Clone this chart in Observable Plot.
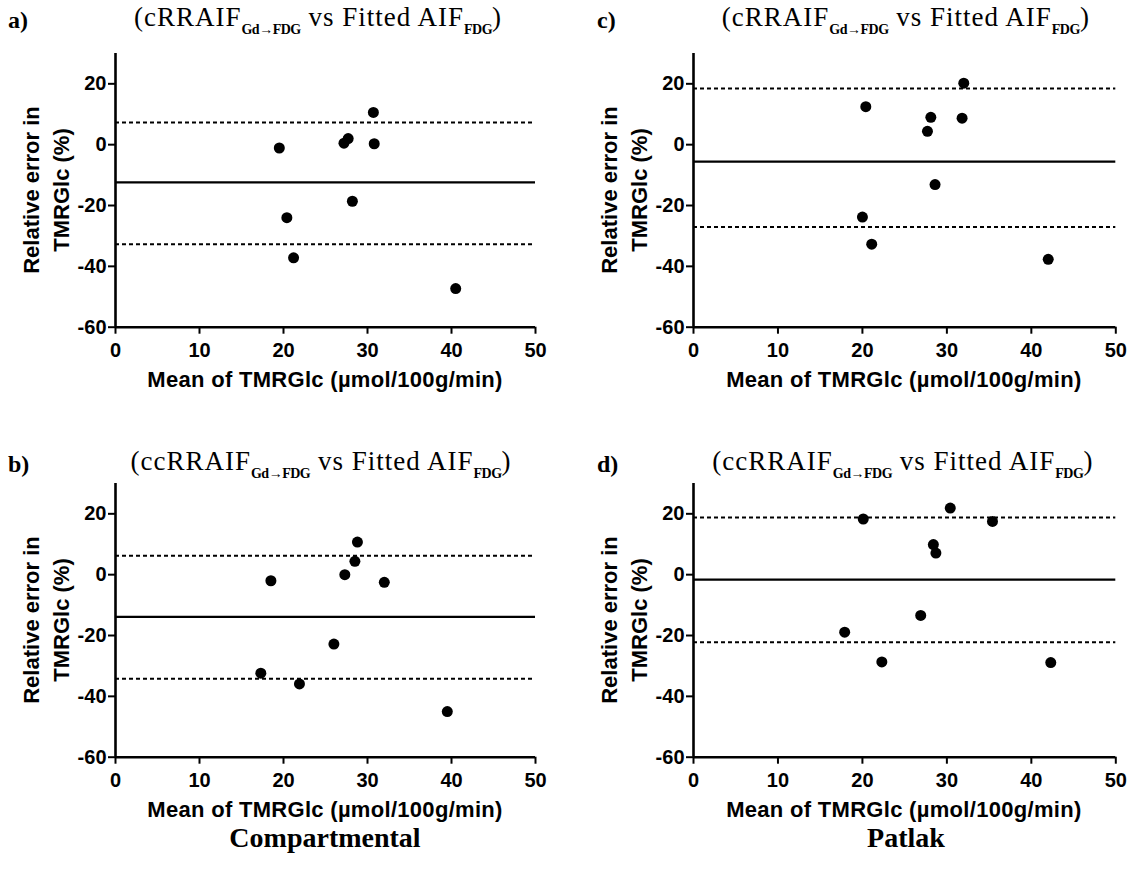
<!DOCTYPE html>
<html>
<head>
<meta charset="utf-8">
<script src="https://cdn.jsdelivr.net/npm/d3@7"></script>
<script src="https://cdn.jsdelivr.net/npm/@observablehq/plot@0.6"></script>
<style>
  html, body { margin: 0; padding: 0; background: #fff; }
  body { position: relative; width: 1136px; height: 873px; overflow: hidden; color: #000; }
  .panel { position: absolute; }
  .panel text { font-family: "Liberation Sans", Arial, sans-serif; font-size: 20px; font-weight: bold; }
  .tag { position: absolute; font: bold 24px "Liberation Serif", serif; line-height: 1; }
  .title { position: absolute; font: 27px "Liberation Serif", serif; letter-spacing: 1px; line-height: 1; white-space: nowrap; transform: translateX(-50%); }
  .title sub { font-size: 14px; font-weight: bold; vertical-align: -8px; letter-spacing: -0.5px; }
  .ylab { position: absolute; width: 260px; height: 60px; font: bold 22px "Liberation Sans", Arial, sans-serif;
          line-height: 30px; text-align: center; transform: rotate(-90deg); white-space: nowrap; }
  .xlab { position: absolute; font: bold 22px "Liberation Sans", Arial, sans-serif; letter-spacing: 0.3px; white-space: nowrap; transform: translate(-50%, -50%); }
  .method { position: absolute; font: bold 28px "Liberation Serif", serif; white-space: nowrap; transform: translate(-50%, -50%); }
</style>
</head>
<body>
<script>
// Bland–Altman panels: relative error in TMRGlc against mean TMRGlc
const panelTags = ["a)", "b)", "c)", "d)"];
const panelPrefix = ["(cRRAIF", "(ccRRAIF", "(cRRAIF", "(ccRRAIF"];
const methodLabels = ["Compartmental", "Patlak"];

// mean TMRGlc (µmol/100g/min) and relative error (%) per subject
const meanA = [19.5, 20.4, 21.2, 27.2, 27.7, 30.7, 30.8, 28.2, 40.5];
const errA  = [-1.1, -24.0, -37.2, 0.5, 2.0, 10.6, 0.3, -18.6, -47.3];
const meanB = [18.5, 27.3, 28.5, 28.8, 32.0, 26.0, 17.3, 21.9, 39.5];
const errB  = [-2.0, 0.0, 4.4, 10.7, -2.5, -22.8, -32.4, -35.9, -45.0];
const meanC = [20.4, 32.0, 28.1, 27.7, 31.8, 28.6, 20.0, 21.1, 42.0];
const errC  = [12.5, 20.2, 9.0, 4.4, 8.7, -13.1, -23.8, -32.7, -37.7];
const meanD = [20.1, 30.4, 35.4, 28.4, 28.7, 26.9, 17.9, 22.3, 42.3];
const errD  = [18.3, 21.9, 17.5, 9.9, 7.1, -13.4, -18.9, -28.7, -28.9];

// bias (solid) and 95% limits of agreement (dotted), panels a–d
const bias  = [-12.4, -13.9, -5.6, -1.6];
const upper = [7.3, 6.2, 18.5, 18.8];
const lower = [-32.7, -34.2, -27.1, -22.2];

const xTicks = [0, 10, 20, 30, 40, 50];
const yTicks = [-60, -40, -20, 0, 20];
const xDomain = [0, 50];
const yDomain = [-60, 30];

const panelMeans = [meanA, meanB, meanC, meanD];
const panelErrs = [errA, errB, errC, errD];

// panel placement: column (0 = left, 1 = right), title centre shift
const layout = [
  {left: 0, top: 0, mr: 25, col: 0, tdx: -7},
  {left: 0, top: 429.7, mr: 25, col: 0, tdx: -4},
  {left: 577.7, top: 0, mr: 22.7, col: 1, tdx: 2},
  {left: 577.7, top: 429.7, mr: 22.7, col: 1, tdx: -1}
];

const W = 560, H = 400, ML = 115, MT = 52.9, MB = 73.3;

function add(el) { document.body.appendChild(el); return el; }
function div(cls, html, style) {
  const d = document.createElement("div");
  d.className = cls;
  d.innerHTML = html;
  Object.assign(d.style, style);
  return add(d);
}

for (let i = 0; i < 4; i++) {
  const L = layout[i];
  const rows = panelMeans[i].map((m, k) => ({mean: m, err: panelErrs[i][k]}));

  const chart = Plot.plot({
    width: W,
    height: H,
    marginLeft: ML,
    marginRight: L.mr,
    marginTop: MT,
    marginBottom: MB,
    x: {domain: xDomain},
    y: {domain: yDomain},
    style: {color: "#000", background: "transparent", overflow: "visible"},
    marks: [
      Plot.ruleY([upper[i], lower[i]], {stroke: "#000", strokeWidth: 2, strokeDasharray: "4,3"}),
      Plot.ruleY([bias[i]], {stroke: "#000", strokeWidth: 2.2}),
      Plot.axisX({ticks: xTicks, tickSize: 7, tickPadding: 9, strokeWidth: 2, label: null, tickFormat: d => d}),
      Plot.axisY({ticks: yTicks, tickSize: 7, tickPadding: 2, strokeWidth: 2, label: null, tickFormat: d => d}),
      Plot.ruleX([0], {stroke: "#000", strokeWidth: 2.6}),
      Plot.ruleY([-60], {stroke: "#000", strokeWidth: 2.6}),
      Plot.dot(rows, {x: "mean", y: "err", r: 5.5, fill: "#000", stroke: "none"})
    ]
  });
  chart.classList.add("panel");
  chart.style.left = L.left + "px";
  chart.style.top = L.top + "px";
  add(chart);

  const frameL = L.left + ML;
  const frameR = L.left + W - L.mr;
  const cx = (frameL + frameR) / 2;
  const frameMidY = L.top + (MT + (H - MB)) / 2;

  // panel tag and comparison title
  div("tag", panelTags[i], {left: (L.col ? 597 : 8) + "px", top: (L.top + (L.top ? 22 : 8)) + "px"});
  div("title", `${panelPrefix[i]}<sub>Gd→FDG</sub> vs Fitted AIF<sub>FDG</sub>)`,
      {left: (cx + L.tdx) + "px", top: (L.top + (L.top ? 18 : 4)) + "px"});

  // y-axis title (two lines, rotated)
  div("ylab", "Relative error in<br>TMRGlc (%)",
      {left: (L.left + 47 - 130) + "px", top: (frameMidY - 30) + "px"});

  // x-axis title
  div("xlab", "Mean of TMRGlc (µmol/100g/min)", {left: cx + "px", top: (L.top + 380) + "px"});
}

methodLabels.forEach((t, j) => {
  div("method", t, {left: (j ? 906 : 325) + "px", top: "838px"});
});
</script>
</body>
</html>
